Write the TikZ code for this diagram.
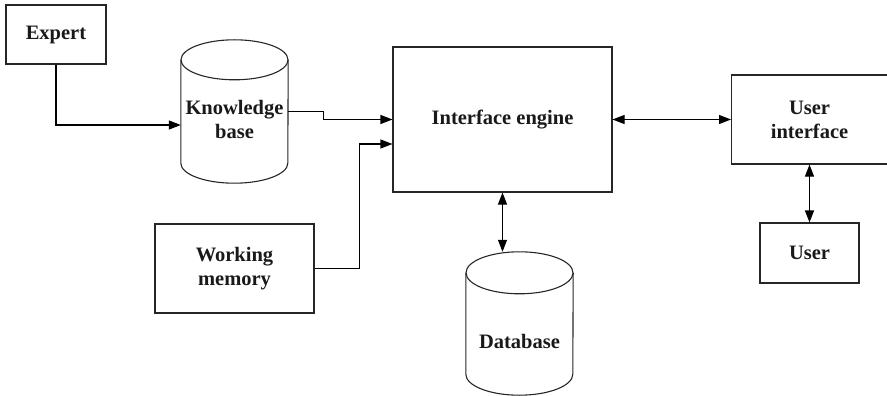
\documentclass[tikz,border=0pt]{standalone}
\usepackage{fontspec}
\setmainfont{Liberation Serif}
\usetikzlibrary{arrows.meta}
\begin{document}
\begin{tikzpicture}[x=1pt,y=1pt,
  every node/.style={font=\fontsize{20.5}{24}\selectfont\bfseries, align=center, inner sep=0pt, text=black!90},
  boxnode/.style={draw=black!85, line width=1.1pt},
  cylframe/.style={draw=none},
  line/.style={draw=black!85, line width=1.1pt},
  arr/.style={draw=black, line width=1.1pt, -{Triangle[length=12pt,width=9pt]}},
  biarr/.style={draw=black, line width=1.1pt, {Triangle[length=12pt,width=9pt]}-{Triangle[length=12pt,width=9pt]}}
]
\useasboundingbox (0,0) rectangle (887,-396);

% boxes
\node[boxnode, minimum width=100, minimum height=59] (expert) at (56,-34.5) {Expert};
\node[boxnode, minimum width=219, minimum height=145] (ie) at (502.5,-119.5) {Interface engine};
\node[boxnode, minimum width=159, minimum height=89] (wm) at (234.5,-268.5) {Working\\memory};
\node[boxnode, minimum width=158, minimum height=89, anchor=west] (ui) at (731,-119.5) {};
\node at (809.5,-119.5) {User\\interface};
\node[boxnode, minimum width=99, minimum height=60] (user) at (809.5,-253) {User};

% cylinders (frames)
\node[cylframe, minimum width=107, minimum height=143] (kb) at (234.5,-111.5) {};
\node[cylframe, minimum width=107, minimum height=143] (db) at (519.5,-323.5) {};

% knowledge base cylinder outline
\draw[line] ([yshift=-20pt]kb.north west) -- ([yshift=20pt]kb.south west)
  arc[start angle=180, end angle=360, x radius=53.5, y radius=20]
  -- ([yshift=-20pt]kb.north east);
\draw[line] ([yshift=-20pt]kb.north) ellipse [x radius=53.5, y radius=20];
\node at (234.5,-119) {Knowledge\\base};

% database cylinder outline
\draw[line] ([yshift=-21pt]db.north west) -- ([yshift=21pt]db.south west)
  arc[start angle=180, end angle=360, x radius=53.5, y radius=21]
  -- ([yshift=-21pt]db.north east);
\draw[line] ([yshift=-21pt]db.north) ellipse [x radius=53.5, y radius=21];
\node at (519.5,-341) {Database};

% connectors
\draw[arr] (expert.south) |- ([yshift=-13.5pt]kb.west);
\draw[arr] (kb.east) -- ++(35,0) |- (ie.west);
\draw[arr] (wm.east) -- ++(45,0) |- ([yshift=-24.5pt]ie.west);
\draw[biarr] (ie.south) -- (ie.south |- db.north);
\draw[biarr] (ie.east) -- (ui.west);
\draw[biarr] (ui.south -| user.north) -- (user.north);
\end{tikzpicture}
\end{document}
